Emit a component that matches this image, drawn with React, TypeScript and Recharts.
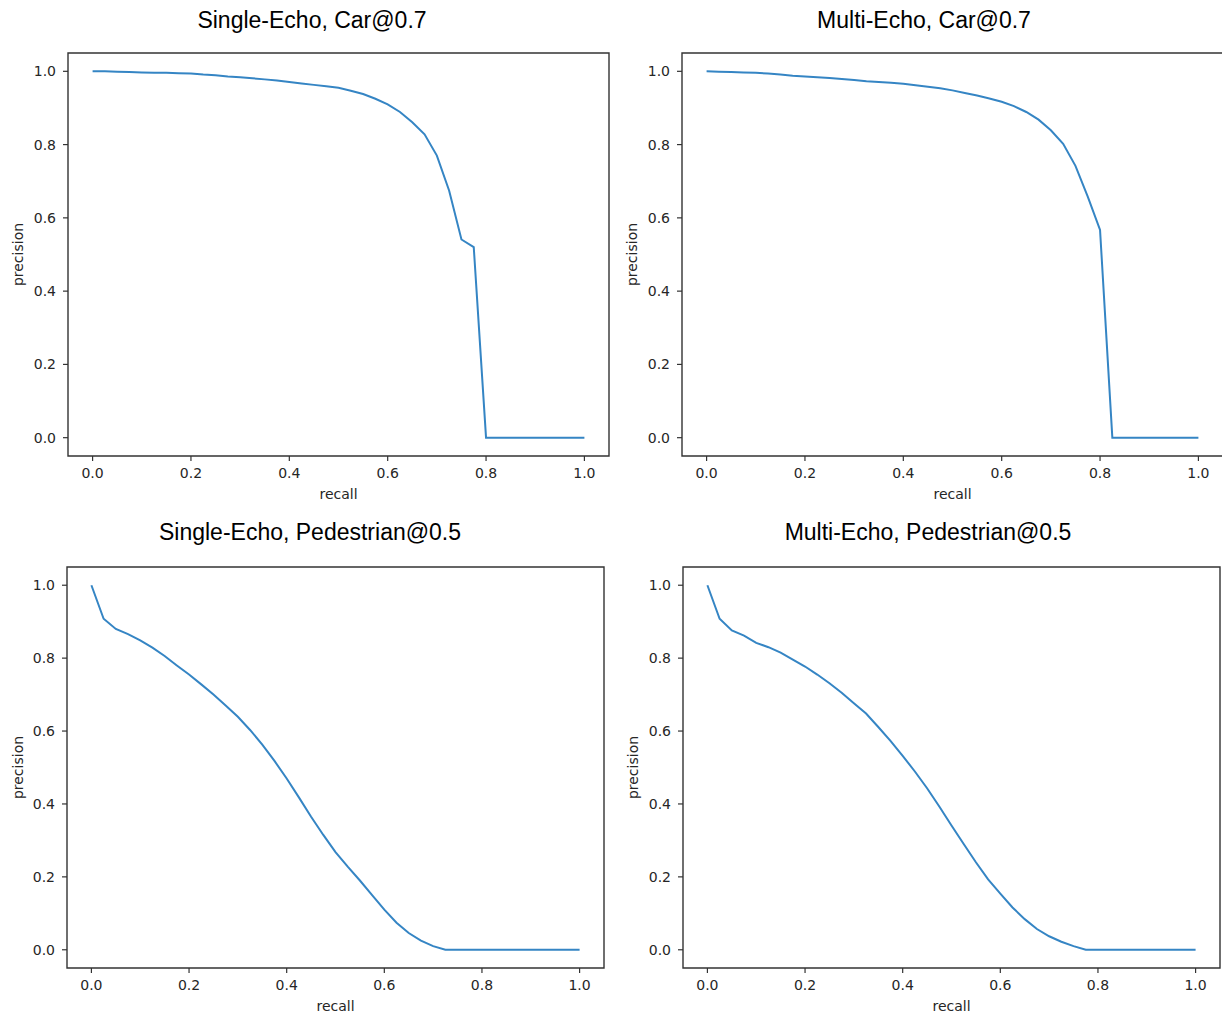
import { LineChart, Line, XAxis, YAxis, ReferenceArea } from 'recharts';

// recall sampling points (41-point PR curves)
const RECALL = [
  0, 0.025, 0.05, 0.075, 0.1, 0.125, 0.15, 0.175, 0.2, 0.225, 0.25, 0.275, 0.3, 0.325,
  0.35, 0.375, 0.4, 0.425, 0.45, 0.475, 0.5, 0.525, 0.55, 0.575, 0.6, 0.625, 0.65, 0.675,
  0.7, 0.725, 0.75, 0.775, 0.8, 0.825, 0.85, 0.875, 0.9, 0.925, 0.95, 0.975, 1.0,
];

const SINGLE_CAR = [
  1.0, 1.0, 0.999, 0.998, 0.997, 0.996, 0.996, 0.995, 0.994, 0.991, 0.989, 0.986, 0.984, 0.981,
  0.978, 0.975, 0.971, 0.967, 0.963, 0.959, 0.955, 0.947, 0.938, 0.925, 0.91, 0.889, 0.861, 0.828,
  0.77, 0.674, 0.541, 0.52, 0, 0, 0, 0, 0, 0, 0, 0, 0,
];

const MULTI_CAR = [
  1.0, 0.999, 0.998, 0.997, 0.996, 0.994, 0.991, 0.988, 0.986, 0.984, 0.982, 0.979, 0.976, 0.973,
  0.971, 0.969, 0.966, 0.962, 0.958, 0.954, 0.948, 0.941, 0.934, 0.926, 0.917, 0.905, 0.889, 0.868,
  0.839, 0.802, 0.742, 0.658, 0.567, 0, 0, 0, 0, 0, 0, 0, 0,
];

const SINGLE_PED = [
  1.0, 0.908, 0.88, 0.866, 0.849, 0.829, 0.806, 0.78, 0.755, 0.728, 0.7, 0.67, 0.639, 0.603,
  0.563, 0.518, 0.47, 0.418, 0.365, 0.315, 0.268, 0.228, 0.19, 0.15, 0.11, 0.074, 0.046, 0.025,
  0.01, 0, 0, 0, 0, 0, 0, 0, 0, 0, 0, 0, 0,
];

const MULTI_PED = [
  1.0, 0.908, 0.876, 0.862, 0.842, 0.83, 0.815, 0.796, 0.777, 0.755, 0.731, 0.705, 0.676, 0.648,
  0.611, 0.573, 0.532, 0.489, 0.443, 0.393, 0.341, 0.29, 0.24, 0.193, 0.154, 0.116, 0.084, 0.057,
  0.037, 0.022, 0.01, 0, 0, 0, 0, 0, 0, 0, 0, 0, 0,
];

const TICKS = [0, 0.2, 0.4, 0.6, 0.8, 1.0];

const BLUE = '#3585c4';
const AX = '#333';
const TXT = '#262626';
const FONT = '"DejaVu Sans", sans-serif';
const YW = 68; // y axis width
const XH = 50; // x axis height
const PAD = 2;

const fmt = (v: number) => v.toFixed(1);

function PRPanel({
  title,
  values,
  plotLeft,
  plotTop,
  plotW,
  plotH,
  titleX,
  titleBase,
  labelOffset,
}: {
  title: string;
  values: number[];
  plotLeft: number;
  plotTop: number;
  plotW: number;
  plotH: number;
  titleX: number;
  titleBase: number;
  labelOffset: number;
}) {
  const data = RECALL.map((r, i) => ({ recall: r, precision: values[i] }));
  const tickStyle = { fill: TXT, fontSize: 14, fontFamily: FONT };

  return (
    <>
      <div
        style={{
          position: 'absolute',
          left: titleX - 300,
          width: 600,
          top: titleBase - 19.5,
          textAlign: 'center',
          font: '23px/23px "Liberation Sans", Arial, sans-serif',
          color: '#000',
          whiteSpace: 'nowrap',
        }}
      >
        {title}
      </div>
      <div style={{ position: 'absolute', left: plotLeft - YW, top: plotTop - PAD }}>
        <LineChart
          width={YW + plotW + PAD}
          height={PAD + plotH + XH}
          data={data}
          margin={{ top: PAD, right: PAD, bottom: 0, left: 0 }}
        >
          <XAxis
            type="number"
            dataKey="recall"
            domain={[-0.05, 1.05]}
            ticks={TICKS}
            tickFormatter={fmt}
            axisLine={false}
            tickLine={{ stroke: AX, strokeWidth: 1.2 }}
            tickSize={5}
            tickMargin={7}
            height={XH}
            tick={tickStyle}
            label={{ value: 'recall', position: 'insideBottom', offset: 7, fill: TXT, fontSize: 14, fontFamily: FONT }}
          />
          <YAxis
            type="number"
            domain={[-0.05, 1.05]}
            ticks={TICKS}
            tickFormatter={fmt}
            axisLine={false}
            tickLine={{ stroke: AX, strokeWidth: 1.2 }}
            tickSize={5}
            tickMargin={7}
            width={YW}
            tick={tickStyle}
            label={{
              value: 'precision',
              angle: -90,
              position: 'insideLeft',
              offset: labelOffset,
              fill: TXT,
              fontSize: 14,
              fontFamily: FONT,
              style: { textAnchor: 'middle' },
            }}
          />
          <ReferenceArea
            x1={-0.05}
            x2={1.05}
            y1={-0.05}
            y2={1.05}
            fill="none"
            stroke={AX}
            strokeWidth={1.4}
            ifOverflow="visible"
          />
          <Line
            type="linear"
            dataKey="precision"
            stroke={BLUE}
            strokeWidth={2}
            dot={false}
            isAnimationActive={false}
          />
        </LineChart>
      </div>
    </>
  );
}

export default function App() {
  return (
    <div
      style={{
        position: 'absolute',
        left: 0,
        top: 0,
        width: 1222,
        height: 1017,
        overflow: 'hidden',
        background: '#fff',
      }}
    >
      <PRPanel title="Single-Echo, Car@0.7" values={SINGLE_CAR} plotLeft={68} plotTop={53} plotW={541} plotH={403} titleX={312} titleBase={28} labelOffset={18} />
      <PRPanel title="Multi-Echo, Car@0.7" values={MULTI_CAR} plotLeft={682} plotTop={53} plotW={541} plotH={403} titleX={924} titleBase={28} labelOffset={18} />
      <PRPanel title="Single-Echo, Pedestrian@0.5" values={SINGLE_PED} plotLeft={67} plotTop={567} plotW={537} plotH={401} titleX={310} titleBase={540} labelOffset={19} />
      <PRPanel title="Multi-Echo, Pedestrian@0.5" values={MULTI_PED} plotLeft={683} plotTop={567} plotW={537} plotH={401} titleX={928} titleBase={540} labelOffset={18} />
    </div>
  );
}
